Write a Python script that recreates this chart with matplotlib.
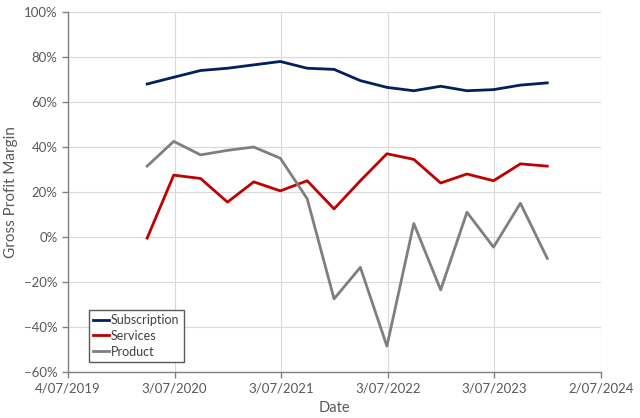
import matplotlib
matplotlib.use("Agg")
import matplotlib.pyplot as plt
import matplotlib.dates as mdates
import pandas as pd
from matplotlib.ticker import FixedLocator, PercentFormatter

dates = pd.to_datetime([
    "2020-03-31", "2020-06-30", "2020-09-30", "2020-12-31",
    "2021-03-31", "2021-06-30", "2021-09-30", "2021-12-31",
    "2022-03-31", "2022-06-30", "2022-09-30", "2022-12-31",
    "2023-03-31", "2023-06-30", "2023-09-30", "2023-12-31",
])
subscription = [68, 71, 74, 75, 76.5, 78, 75, 74.5, 69.5, 66.5, 65, 67, 65, 65.5, 67.5, 68.5]
services = [-0.5, 27.5, 26, 15.5, 24.5, 20.5, 25, 12.5, 25, 37, 34.5, 24, 28, 25, 32.5, 31.5]
product = [31.5, 42.5, 36.5, 38.5, 40, 35, 17, -27.5, -13.5, -48.5, 6, -23.5, 11, -4.5, 15, -9.5]

tick_dates = pd.to_datetime(["2019-07-04", "2020-07-03", "2021-07-03",
                             "2022-07-03", "2023-07-03", "2024-07-02"])
tick_labels = ["4/07/2019", "3/07/2020", "3/07/2021", "3/07/2022", "3/07/2023", "2/07/2024"]

plt.rcParams['font.family'] = ['Lato', 'DejaVu Sans']

fig = plt.figure(figsize=(6.4, 4.18), dpi=100)
ax = fig.add_axes([68/640, 1-372/418, (601-68)/640, (372-12)/418])

ax.plot(dates, subscription, color="#002060", lw=2, label="Subscription")
ax.plot(dates, services, color="#C00000", lw=2, label="Services")
ax.plot(dates, product, color="#7F7F7F", lw=2, label="Product")

tnums = mdates.date2num(tick_dates)
ax.set_xlim(tnums[0], tnums[-1])
ax.xaxis.set_major_locator(FixedLocator(tnums))
ax.set_xticklabels(tick_labels)
ax.set_ylim(-60, 100)
ax.set_yticks(range(-60, 101, 20))
ax.yaxis.set_major_formatter(PercentFormatter(decimals=0))

ax.grid(True, color="#D9D9D9", lw=0.8)
ax.set_axisbelow(True)
for s in ["top", "right"]:
    ax.spines[s].set_visible(False)
for s in ["left", "bottom"]:
    ax.spines[s].set_color("#808080")
    ax.spines[s].set_linewidth(1)
ax.tick_params(axis="both", colors="#808080", labelcolor="#595959", labelsize=9.5, length=4, width=1)

ax.set_xlabel("Date", color="#595959", fontsize=10.5, labelpad=5)
ax.set_ylabel("Gross Profit Margin", color="#595959", fontsize=11, labelpad=4)

leg = ax.legend(loc="lower left", bbox_to_anchor=(0.039, 0.028), borderaxespad=0,
                fontsize=9, handlelength=1.3, handletextpad=0.1, labelspacing=0.3,
                borderpad=0.35, fancybox=False, framealpha=1)
leg.get_frame().set_edgecolor("#595959")
leg.get_frame().set_linewidth(1)
for t in leg.get_texts():
    t.set_color("#404040")

fig.savefig("out.png", dpi=100)
